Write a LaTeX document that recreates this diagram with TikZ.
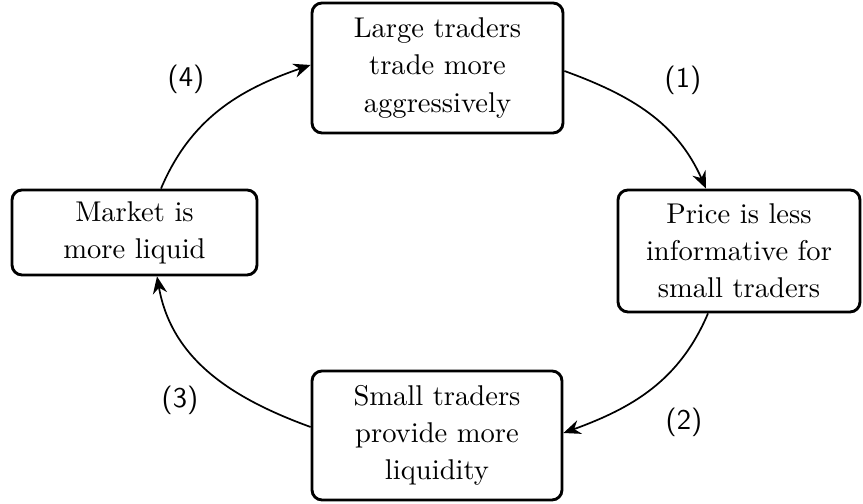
\documentclass[tikz,border=0pt]{standalone}
\usetikzlibrary{arrows.meta,calc}
\begin{document}
\begin{tikzpicture}[x=0.35pt,y=0.35pt,
  box/.style={draw, line width=1pt, rounded corners=3.5pt, align=center, inner sep=0pt,
    font=\fontsize{10}{13}\selectfont},
  lab/.style={font=\sffamily},
  arr/.style={-{Stealth[length=6pt,width=5pt,inset=2pt]}, line width=0.6pt}]
\useasboundingbox (0,0) rectangle (863,-504);
\node[box, minimum width=87.85pt, minimum height=45.5pt] (top) at (437.5,-68)
  {Large traders\\trade more\\aggressively};
\node[box, minimum width=84.7pt, minimum height=42.7pt] (right) at (739,-251)
  {Price is less\\informative for\\small traders};
\node[box, minimum width=87.5pt, minimum height=45.15pt] (bottom) at (437,-435.5)
  {Small traders\\provide more\\liquidity};
\node[box, minimum width=85.75pt, minimum height=29.75pt] (left) at (134.5,-232.5)
  {Market is\\more liquid};
\coordinate (a1s) at ($(top.east)+(0,-3)$);
\coordinate (a1e) at ($(right.north)+(-33,0)$);
\coordinate (a2s) at ($(right.south)+(-31,0)$);
\coordinate (a2e) at ($(bottom.east)+(0,2.5)$);
\coordinate (a3s) at ($(bottom.west)+(0,8.5)$);
\coordinate (a3e) at ($(left.south)+(22.5,0)$);
\coordinate (a4s) at ($(left.north)+(26.5,0)$);
\coordinate (a4e) at ($(top.west)+(0,3)$);
\draw[arr] (a1s) to[out=-20,in=114] (a1e);
\draw[arr] (a2s) to[out=-113,in=20] (a2e);
\draw[arr] (a3s) to[out=160,in=-80] (a3e);
\draw[arr] (a4s) to[out=67,in=199] (a4e);
\node[lab] (l1) at (683,-80) {(1)};
\node[lab] (l2) at (684,-422) {(2)};
\node[lab] (l3) at (180,-400) {(3)};
\node[lab] (l4) at (186,-79) {(4)};
\end{tikzpicture}
\end{document}
